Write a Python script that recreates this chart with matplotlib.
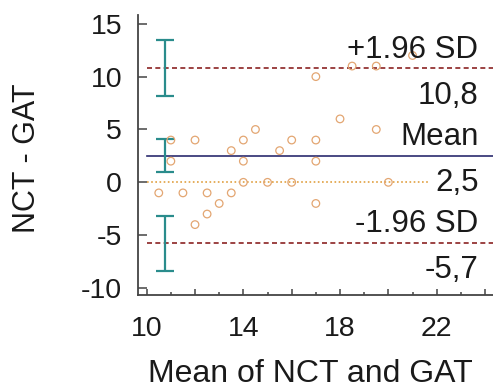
import matplotlib
matplotlib.use("Agg")
import matplotlib.pyplot as plt
import matplotlib.transforms as mtransforms
from matplotlib.ticker import FixedLocator, MultipleLocator, FuncFormatter

plt.rcParams['font.family'] = ['Liberation Sans', 'DejaVu Sans']
plt.rcParams['axes.unicode_minus'] = False

# Data (mean of NCT and GAT, difference NCT - GAT)
mean_vals = [10.5, 11, 11, 11.5, 12, 12, 12.5, 12.5, 13, 13.5, 13.5,
             14, 14, 14, 14.5, 15, 15.5, 16, 16, 17, 17, 17, 17,
             18, 18.5, 19.5, 19.5, 20, 21]
diff_vals = [-1, 4, 2, -1, 4, -4, -1, -3, -2, 3, -1,
             4, 2, 0, 5, 0, 3, 4, 0, 10, 4, 2, -2,
             6, 11, 11, 5, 0, 12]

mean_diff = 2.5
upper_loa = 10.8
lower_loa = -5.7
mean_label = "2,5"
upper_label = "10,8"
lower_label = "-5,7"

# Confidence intervals (low, high)
ci_upper = (8.2, 13.5)
ci_mean = (1.0, 4.1)
ci_lower = (-8.4, -3.2)
ci_x = 10.76

line_start = 10.0
zero_end = 21.65

xticks_major = [10, 12, 14, 16, 18, 20, 22, 24]
yticks = [-10, -5, 0, 5, 10, 15]

W, H = 493, 390
fig = plt.figure(figsize=(W / 100, H / 100), dpi=100)
ax = fig.add_axes([137.5 / W, 1 - 295 / H, 1 - 137.5 / W, (295 - 15) / H])

ax.set_xlim(9.62, 24.33)
ax.set_ylim(-10.66, 15.83)

spine_col = '#444444'
for s in ['top', 'right']:
    ax.spines[s].set_visible(False)
for s in ['left', 'bottom']:
    ax.spines[s].set_color(spine_col)
    ax.spines[s].set_linewidth(1.3)

# Lines
xr = ax.get_xlim()[1]
ax.plot([line_start, xr], [upper_loa, upper_loa], linestyle=(0, (3, 2)), color='#8b2323', lw=1.2, zorder=2)
ax.plot([line_start, xr], [lower_loa, lower_loa], linestyle=(0, (3, 2)), color='#8b2323', lw=1.2, zorder=2)
ax.plot([line_start, xr], [mean_diff, mean_diff], linestyle='-', color='#2b2b6e', lw=1.2, zorder=2)
ax.plot([line_start, zero_end], [0, 0], linestyle=(0, (1, 1.5)), color='#e0a040', lw=1.2, zorder=2)

# CI error bars
for lo, hi in [ci_upper, ci_mean, ci_lower]:
    mid = (lo + hi) / 2
    ax.errorbar([ci_x], [mid], yerr=[[mid - lo], [hi - mid]], fmt='none',
                ecolor='#2a8c8c', elinewidth=1.6, capsize=6.5, capthick=1.6, zorder=3)

# Scatter
ax.scatter(mean_vals, diff_vals, s=30, facecolors='none', edgecolors='#e3a672',
           linewidths=0.9, zorder=4)

# Labels on the right
trans = mtransforms.blended_transform_factory(ax.transAxes, ax.transData)
fs_lab = 22.5
txtcol = '#1a1a1a'
for val, top, bot in [(upper_loa, "+1.96 SD", upper_label),
                      (mean_diff, "Mean", mean_label),
                      (lower_loa, "-1.96 SD", lower_label)]:
    ax.annotate(top, xy=(1, val), xycoords=trans, xytext=(-10.5, 7.5), textcoords='offset points',
                ha='right', va='baseline', fontsize=fs_lab, color=txtcol, zorder=5)
    ax.annotate(bot, xy=(1, val), xycoords=trans, xytext=(-10.5, -9), textcoords='offset points',
                ha='right', va='top', fontsize=fs_lab, color=txtcol, zorder=5)

# Ticks
fs_tick = 20.5
ax.xaxis.set_major_locator(FixedLocator(xticks_major))
ax.xaxis.set_minor_locator(MultipleLocator(1))
ax.xaxis.set_major_formatter(FuncFormatter(lambda v, p: f"{int(v)}" if int(round(v - 10)) % 4 == 0 else ""))
ax.yaxis.set_major_locator(FixedLocator(yticks))
ax.tick_params(axis='x', which='major', direction='in', length=4.5, width=1.1, color=spine_col,
               labelsize=fs_tick, pad=15, labelcolor=txtcol)
ax.tick_params(axis='x', which='minor', direction='in', length=2, width=1.1, color=spine_col)
ax.tick_params(axis='y', which='major', direction='in', length=6.5, width=1.1, color=spine_col,
               labelsize=fs_tick, pad=11, labelcolor=txtcol)

ax.set_xlabel("Mean of NCT and GAT", fontsize=23, color=txtcol)
ax.xaxis.label.set_va('baseline')
ax.xaxis.set_label_coords(0.485, (295 - 382.5) / 280)
ax.set_ylabel("NCT - GAT", fontsize=22, color=txtcol)
ax.yaxis.label.set_va('center')
ax.yaxis.set_label_coords((27 - 137.5) / 355.5, (295 - 158) / 280)

fig.savefig("out.png", dpi=100)
